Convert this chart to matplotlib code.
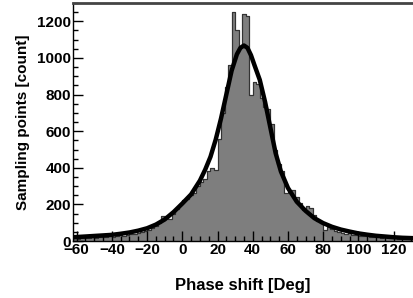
import matplotlib.pyplot as plt
import numpy as np

# histogram: 2 deg bins from -62 to 132
bin_edges = np.arange(-62, 133, 2)
counts = [15, 14, 16, 18, 17, 20, 19, 22, 21, 24, 26, 25, 28, 32, 30, 35, 40, 38, 45, 50,
          55, 62, 70, 80, 100, 135, 130, 120, 150, 175, 205, 225, 230, 250, 260, 300, 320, 340, 380, 400,
          390, 560, 700, 840, 960, 1250, 1150, 1060, 1240, 1230, 800, 870, 860, 780, 730, 720, 640, 500, 420, 380,
          260, 270, 280, 240, 210, 170, 190, 180, 140, 110, 100, 60, 75, 65, 55, 50, 45, 40, 42, 35,
          32, 30, 28, 26, 25, 22, 20, 18, 20, 17, 15, 16, 14, 15, 13, 14, 12]

# fitted curve
fit_x = [-62, -55, -50, -45, -40, -35, -30, -25, -20, -15, -10, -5, 0, 5, 10, 13, 16, 19, 22, 25,
         28, 31, 33, 35, 37, 39, 41, 44, 47, 50, 53, 56, 60, 65, 70, 75, 80, 85, 90, 95,
         100, 105, 110, 115, 120, 125, 131]
fit_y = [21, 25, 28, 31, 34, 40, 47, 57, 70, 90, 118, 158, 205, 255, 330, 390, 460, 555, 670, 800,
         930, 1020, 1055, 1068, 1055, 1015, 960, 880, 760, 620, 480, 380, 290, 215, 165, 125, 98, 78, 63, 52,
         42, 35, 29, 25, 21, 18, 16]

plt.rcParams['font.family'] = 'Liberation Sans'
plt.rcParams['font.weight'] = 'bold'

fig = plt.figure(figsize=(4.13, 2.98), dpi=100)
ax = fig.add_axes([0.177, 0.191, 0.823, 0.799])

ax.stairs(counts, bin_edges, fill=True, facecolor='#7e7e7e', edgecolor='#333333', linewidth=0.8)
ax.stairs(counts, bin_edges, color='#333333', linewidth=0.8)
ax.plot(fit_x, fit_y, color='black', linewidth=3.2)

ax.set_xlim(-62, 131)
ax.set_ylim(0, 1300)
ax.set_xticks(np.arange(-60, 121, 20))
ax.set_xticks(np.arange(-60, 131, 5), minor=True)
ax.set_yticks(np.arange(0, 1201, 200))
ax.set_yticks(np.arange(0, 1301, 50), minor=True)
ax.tick_params(direction='in', which='major', length=7, width=1, labelsize=11, pad=1.5)
ax.tick_params(direction='in', which='minor', length=3.5, width=1)
ax.spines['right'].set_visible(False)
ax.spines['top'].set_linewidth(2)
ax.spines['top'].set_color('#444444')
for s in ['left', 'bottom']:
    ax.spines[s].set_linewidth(1)

ax.set_xlabel('Phase shift [Deg]', fontsize=12, fontweight='bold', labelpad=15)
ax.set_ylabel('Sampling points [count]', fontsize=11, fontweight='bold', labelpad=5)

plt.savefig('out.png', dpi=100)
